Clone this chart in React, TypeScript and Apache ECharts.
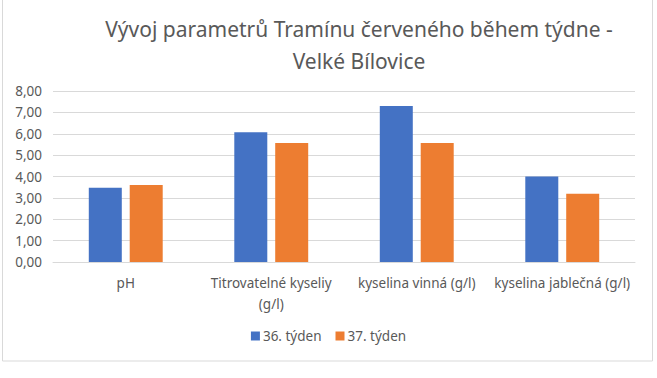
import React, { useEffect, useRef } from "react";
import * as echarts from "echarts";

const categories = ["pH", "Titrovatelné kyseliy\n(g/l)", "kyselina vinná (g/l)", "kyselina jablečná (g/l)"];
const week36 = [3.47, 6.07, 7.3, 4.0];
const week37 = [3.6, 5.57, 5.57, 3.19];
const seriesNames = ["36. týden", "37. týden"];

const FONT = "'Noto Sans', 'Open Sans', sans-serif";

export default function App() {
  const ref = useRef<HTMLDivElement>(null);
  useEffect(() => {
    if (!ref.current) return;
    const chart = echarts.init(ref.current, null, { renderer: "svg" });
    chart.setOption({
      animation: false,
      backgroundColor: "#ffffff",
      textStyle: { fontFamily: FONT },
      title: {
        text: "Vývoj parametrů Tramínu červeného během týdne -\nVelké Bílovice",
        left: 354,
        textAlign: "center",
        top: 8,
        textStyle: { fontFamily: FONT, fontSize: 21, fontWeight: "normal", color: "#595959", lineHeight: 32 },
      },
      graphic: [
        {
          type: "rect",
          shape: { x: 2.5, y: -1, width: 650, height: 362 },
          style: { fill: "none", stroke: "#d9d9d9", lineWidth: 1 },
          silent: true,
        },
      ],
      legend: {
        data: seriesNames,
        bottom: 30,
        left: "center",
        itemWidth: 9,
        itemHeight: 9,
        itemGap: 14,
        icon: "rect",
        textStyle: { fontFamily: FONT, fontSize: 13.5, color: "#595959", padding: [0, 0, 0, -2] },
      },
      grid: { left: 53, right: 22, top: 91, bottom: 116, containLabel: false },
      xAxis: {
        type: "category",
        data: categories,
        axisLine: { show: true, lineStyle: { color: "#d9d9d9" } },
        axisTick: { show: false },
        axisLabel: { fontFamily: FONT, fontSize: 13.5, color: "#595959", margin: 10, lineHeight: 21, interval: 0 },
      },
      yAxis: {
        type: "value",
        min: 0,
        max: 8,
        interval: 1,
        axisLine: { show: false },
        axisTick: { show: false },
        splitLine: { lineStyle: { color: "#d9d9d9" } },
        axisLabel: {
          fontFamily: FONT,
          fontSize: 13.5,
          color: "#595959",
          margin: 11,
          formatter: (v: number) => v.toFixed(2).replace(".", ","),
        },
      },
      series: [
        {
          name: seriesNames[0],
          type: "bar",
          data: week36,
          barWidth: 33,
          barGap: "24%",
          itemStyle: { color: "#4472c4" },
        },
        {
          name: seriesNames[1],
          type: "bar",
          data: week37,
          barWidth: 33,
          barGap: "24%",
          itemStyle: { color: "#ed7d31" },
        },
      ],
    });
    return () => chart.dispose();
  }, []);
  return (
    <div
      ref={ref}
      style={{ position: "fixed", left: 0, top: 0, width: 657, height: 378, background: "#fff" }}
    />
  );
}
